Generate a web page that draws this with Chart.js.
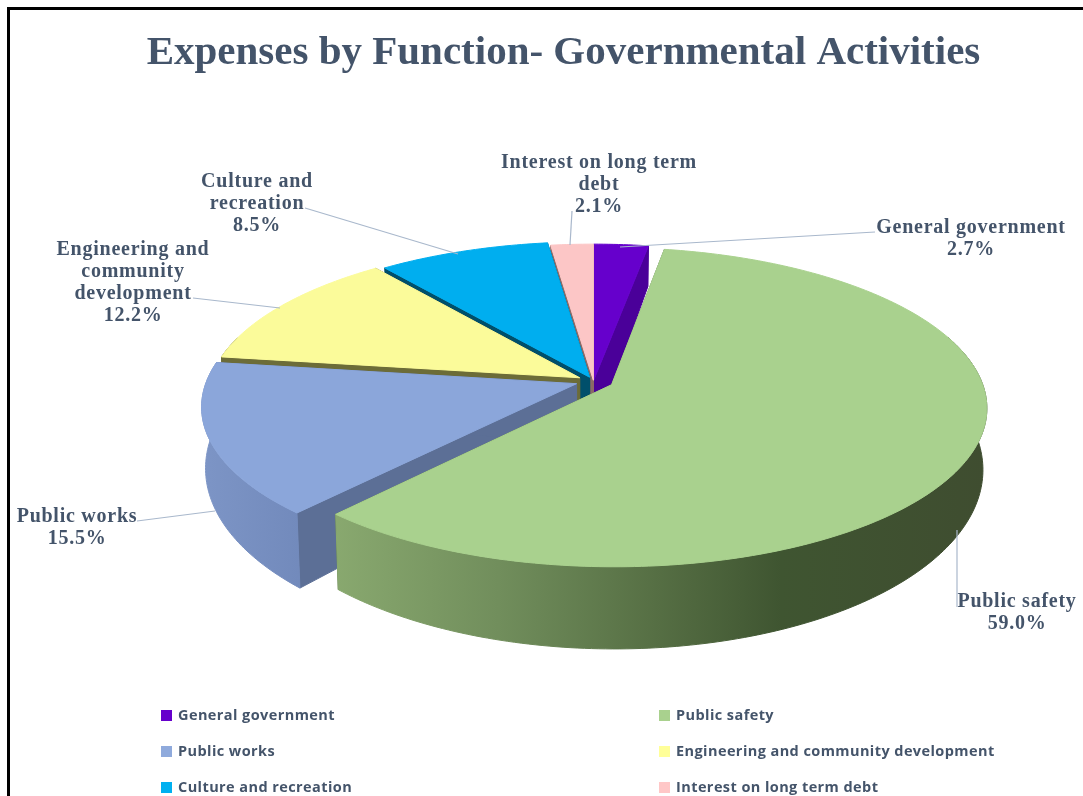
<!DOCTYPE html>
<html>
<head>
<meta charset="utf-8">
<title>Expenses by Function</title>
<script src="https://cdn.jsdelivr.net/npm/chart.js@4/dist/chart.umd.min.js"></script>
<style>
    html, body { margin: 0; background: #fff; overflow: hidden; }
    #frame { position: absolute; left: 7px; top: 7px; width: 1076px; height: 789px; border-left: 3px solid #000; border-top: 3px solid #000; box-sizing: border-box; }
    #pie { position: absolute; left: 0; top: 0; }
</style>
</head>
<body>
<div id="frame"></div>
<canvas id="pie" width="1083" height="796"></canvas>
<script>
const categories = ['General government', 'Public safety', 'Public works', 'Engineering and community development', 'Culture and recreation', 'Interest on long term debt'];
const percentages = [2.7, 59.0, 15.5, 12.2, 8.5, 2.1];
const sliceColors = ['#6600cc', '#a9d18e', '#8ba6da', '#fbfb9a', '#00aeef', '#fcc6c6'];
const legendColors = ['#6600cc', '#a9d18e', '#8faadc', '#ffff99', '#00b0f0', '#ffc7c7'];
const sideColors = ['#4a0099', '#5a7548', '#5c6f96', '#6c6c38', '#004f6b', '#8c6a66'];
const explode = [2, 20, 18, 16, 10, 2];

// name lines for the callouts, the percentage is appended when drawing
const calloutNames = [
    ['General government'],
    ['Public safety'],
    ['Public works'],
    ['Engineering and', 'community', 'development'],
    ['Culture and', 'recreation'],
    ['Interest on long term', 'debt']
];
const calloutText = [
    { x: 971, y: 228 },
    { x: 1017, y: 602 },
    { x: 77, y: 517 },
    { x: 133, y: 250 },
    { x: 257, y: 182 },
    { x: 599, y: 163 }
];
const calloutLines = [
    [[620, 247], [875, 232]],
    [[957, 530], [957, 607]],
    [[137, 521], [215, 511]],
    [[193, 298], [280, 308]],
    [[305, 208], [458, 254]],
    [[570, 245], [572, 211]]
];

// tilt and perspective of the disc
const view = { shiftX: 30, shiftY: -56, squash: 0.42, persp: 0.14, depth: 58, floorX: 0.99, floorY: 1.13 };

const textColor = '#44546a';

function project(el, u, v, floor) {
    const w = 1 / (1 - view.persp * v);
    const R = el.outerRadius;
    const x0 = el.x + view.shiftX, y0 = el.y + view.shiftY;
    if (floor) {
        return [x0 + view.floorX * R * u * w, y0 + view.depth + view.floorY * view.squash * R * v * w];
    }
    return [x0 + R * u * w, y0 + view.squash * R * v * w];
}

function sliceShape(el) {
    const mid = (el.startAngle + el.endAngle) / 2;
    const off = (el.options.offset || 0) / el.outerRadius;
    const du = off * Math.cos(mid), dv = off * Math.sin(mid);
    const steps = Math.max(4, Math.ceil((el.endAngle - el.startAngle) * 60));
    const rim = [];
    for (let i = 0; i <= steps; i++) {
        const t = el.startAngle + (el.endAngle - el.startAngle) * i / steps;
        rim.push([du + Math.cos(t), dv + Math.sin(t)]);
    }
    return { du, dv, rim };
}

function fillPoly(ctx, pts, fill) {
    ctx.beginPath();
    pts.forEach((p, i) => i ? ctx.lineTo(p[0], p[1]) : ctx.moveTo(p[0], p[1]));
    ctx.closePath();
    ctx.fillStyle = fill;
    ctx.fill();
    ctx.strokeStyle = fill;
    ctx.lineWidth = 1;
    ctx.stroke();
}

function wallFill(ctx, i) {
    const g = ctx.createLinearGradient(200, 0, 985, 0);
    if (i === 1) {
        g.addColorStop(0.16, '#8aaa70');
        g.addColorStop(0.38, '#718e5c');
        g.addColorStop(0.58, '#566f44');
        g.addColorStop(0.74, '#3f5531');
        g.addColorStop(1, '#3f4d30');
    } else if (i === 2) {
        g.addColorStop(0, '#7d95c6');
        g.addColorStop(0.15, '#7088ba');
    } else {
        g.addColorStop(0, sideColors[i]);
        g.addColorStop(1, sideColors[i]);
    }
    return g;
}

// the pie is painted back to front: purple and pink first, the big slice last
const paintOrder = [0, 5, 4, 3, 2, 1];

const disc3d = {
    id: 'disc3d',
    beforeDatasetDraw() {
        return false;
    },
    afterDatasetsDraw(chart) {
        const ctx = chart.ctx;
        const arcs = chart.getDatasetMeta(0).data;
        ctx.save();
        paintOrder.forEach(i => {
            const el = arcs[i];
            const s = sliceShape(el);
            const topRim = s.rim.map(p => project(el, p[0], p[1], false));
            const floorRim = s.rim.map(p => project(el, p[0], p[1], true));
            const apexTop = project(el, s.du, s.dv, false);
            const apexFloor = project(el, s.du, s.dv, true);

            // radial walls, then the curved wall, then the top face
            fillPoly(ctx, [apexTop, topRim[0], floorRim[0], apexFloor], sideColors[i]);
            fillPoly(ctx, [apexTop, topRim[topRim.length - 1], floorRim[floorRim.length - 1], apexFloor], sideColors[i]);
            // the back of the rim is hidden by the top face, only the front gets a wall
            const front = s.rim.map((p, n) => n).filter(n => s.rim[n][1] > -0.3);
            if (front.length > 1) {
                const upper = front.map(n => topRim[n]);
                const lower = front.map(n => floorRim[n]).reverse();
                fillPoly(ctx, upper.concat(lower), wallFill(ctx, i));
            }
            fillPoly(ctx, [apexTop].concat(topRim), sliceColors[i]);
        });
        ctx.restore();
    }
};

const callouts = {
    id: 'callouts',
    afterDraw(chart) {
        const ctx = chart.ctx;
        ctx.save();
        ctx.strokeStyle = '#a9b8cc';
        ctx.lineWidth = 1.2;
        calloutLines.forEach(line => {
            ctx.beginPath();
            ctx.moveTo(line[0][0], line[0][1]);
            ctx.lineTo(line[1][0], line[1][1]);
            ctx.stroke();
        });

        ctx.fillStyle = textColor;
        ctx.textAlign = 'center';
        ctx.textBaseline = 'middle';
        ctx.font = 'bold 20px "Liberation Serif"';
        ctx.letterSpacing = '0.75px';
        calloutNames.forEach((names, i) => {
            const rows = names.concat(percentages[i].toFixed(1) + '%');
            rows.forEach((row, r) => ctx.fillText(row, calloutText[i].x, calloutText[i].y + r * 22));
        });

        // two column legend under the pie
        ctx.textAlign = 'left';
        ctx.font = 'bold 14.5px "Open Sans"';
        ctx.letterSpacing = '0.42px';
        categories.forEach((name, i) => {
            const col = i % 2, row = Math.floor(i / 2);
            const x = col ? 659 : 161;
            const y = 716 + row * 36;
            ctx.fillStyle = legendColors[i];
            ctx.fillRect(x, y - 6, 11, 11);
            ctx.fillStyle = textColor;
            ctx.fillText(name, x + 17, y);
        });
        ctx.restore();
    }
};

new Chart(document.getElementById('pie'), {
    type: 'pie',
    data: {
        labels: categories,
        datasets: [{
            data: percentages,
            backgroundColor: sliceColors,
            offset: explode,
            borderWidth: 0,
            radius: 370
        }]
    },
    options: {
        responsive: false,
        animation: false,
        layout: { padding: { left: 44, top: 29 } },
        plugins: {
            legend: { display: false },
            tooltip: { enabled: false },
            title: {
                display: true,
                text: 'Expenses by Function- Governmental Activities',
                color: textColor,
                font: { family: '"Liberation Serif"', size: 41, weight: 'bold' },
                padding: { top: 0, bottom: 0 }
            }
        }
    },
    plugins: [disc3d, callouts]
});
</script>
</body>
</html>
